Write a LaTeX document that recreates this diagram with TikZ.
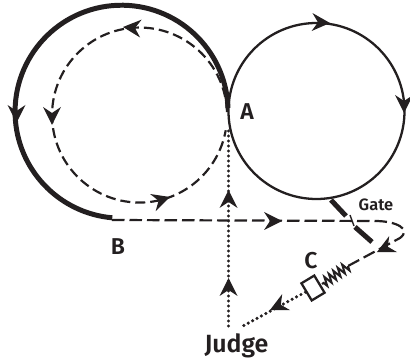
\documentclass[tikz,border=0pt]{standalone}
\usepackage{fontspec}
\setmainfont{Fira Sans SemiBold}
\usetikzlibrary{decorations.pathmorphing,calc}
\definecolor{ink}{HTML}{231F20}
\tikzset{
  x=1bp,y=1bp,
  thin line/.style={draw=ink,line width=2.3pt},
  thick line/.style={draw=ink,line width=5pt},
  dash line/.style={draw=ink,line width=2.2pt,dash pattern=on 10bp off 5bp},
  dash long/.style={draw=ink,line width=2.2pt,dash pattern=on 12.5bp off 5bp},
  dot line/.style={draw=ink,line width=3.5pt,line cap=round,dash pattern=on 0bp off 5bp},
  lab/.style={text=ink,inner sep=0pt,font=\fontsize{23}{23}\selectfont},
  head/.pic={\fill[ink] (0,0) -- (-18,9) -- (-12,0) -- (-18,-9) -- cycle;}
}
\begin{document}
\begin{tikzpicture}
\useasboundingbox (0,0) rectangle (410,362);
% key points
\coordinate (A1) at (228,254);
\coordinate (Bpt) at (112,142);
\coordinate (Gt) at (375,141);
\coordinate (Gr) at (400,124);
\coordinate (Sp0) at (362,103);
\coordinate (Sp1) at (348,96);
\coordinate (Sp2) at (322,78);
\coordinate (JudgeR) at (241,35);
\coordinate (JudgeL) at (228.5,36);
\coordinate (Atop) at (228.5,235);
% loops
\draw[thin line] (316.5,251) circle[radius=88];
\draw[thick line] (A1) arc[start angle=2,end angle=265,radius=106.5];
\draw[dash line] (227,250) arc[start angle=2,end angle=350,radius=87.5];
% path through the gate
\draw[dash long] (Bpt) -- (Gt) .. controls (396,141) and (412,133) .. (Gr) -- (Sp1);
\draw[draw=ink,line width=2pt,decorate,decoration={zigzag,amplitude=4.5bp,segment length=5.4bp}] (Sp1) -- (Sp2);
\node[draw=ink,line width=2.3pt,fill=white,minimum width=15bp,minimum height=20bp,inner sep=0pt,rotate=31] (box) at (313,74) {};
\draw[dot line] (box) -- (JudgeR);
\draw[dot line] (JudgeL) -- (Atop);
% gate
\draw[thick line] (331,162) -- (346,146);
\draw[thick line] (355,135) -- (372,120);
\draw[draw=ink,line width=1.4pt] (350,147) -- (354,136);
% arrowheads
\pic[rotate=-90] at (16.5,239) {head};
\pic[rotate=-90] at (52,237) {head};
\pic[rotate=175] at (123,335) {head};
\pic[rotate=18] at (170,165) {head};
\pic[rotate=-3] at (330,339) {head};
\pic[rotate=-90] at (404,249) {head};
\pic[rotate=90] at (228.5,172) {head};
\pic[rotate=90] at (228.5,84) {head};
\pic[rotate=0] at (282,141) {head};
\pic[rotate=206] at (377,110) {head};
\pic[rotate=206] at (270,52) {head};
% labels
\node[lab] (la) at (247,250) {A};
\node[lab] (lb) at (118,115) {B};
\node[lab] (lc) at (311,101) {C};
\node[lab,font=\fontsize{25}{25}\selectfont] (lj) at (236.5,16) {Judge};
\node[lab,font=\fontsize{16.5}{16.5}\selectfont] (lg) at (376,157) {Gate};
\end{tikzpicture}
\end{document}
